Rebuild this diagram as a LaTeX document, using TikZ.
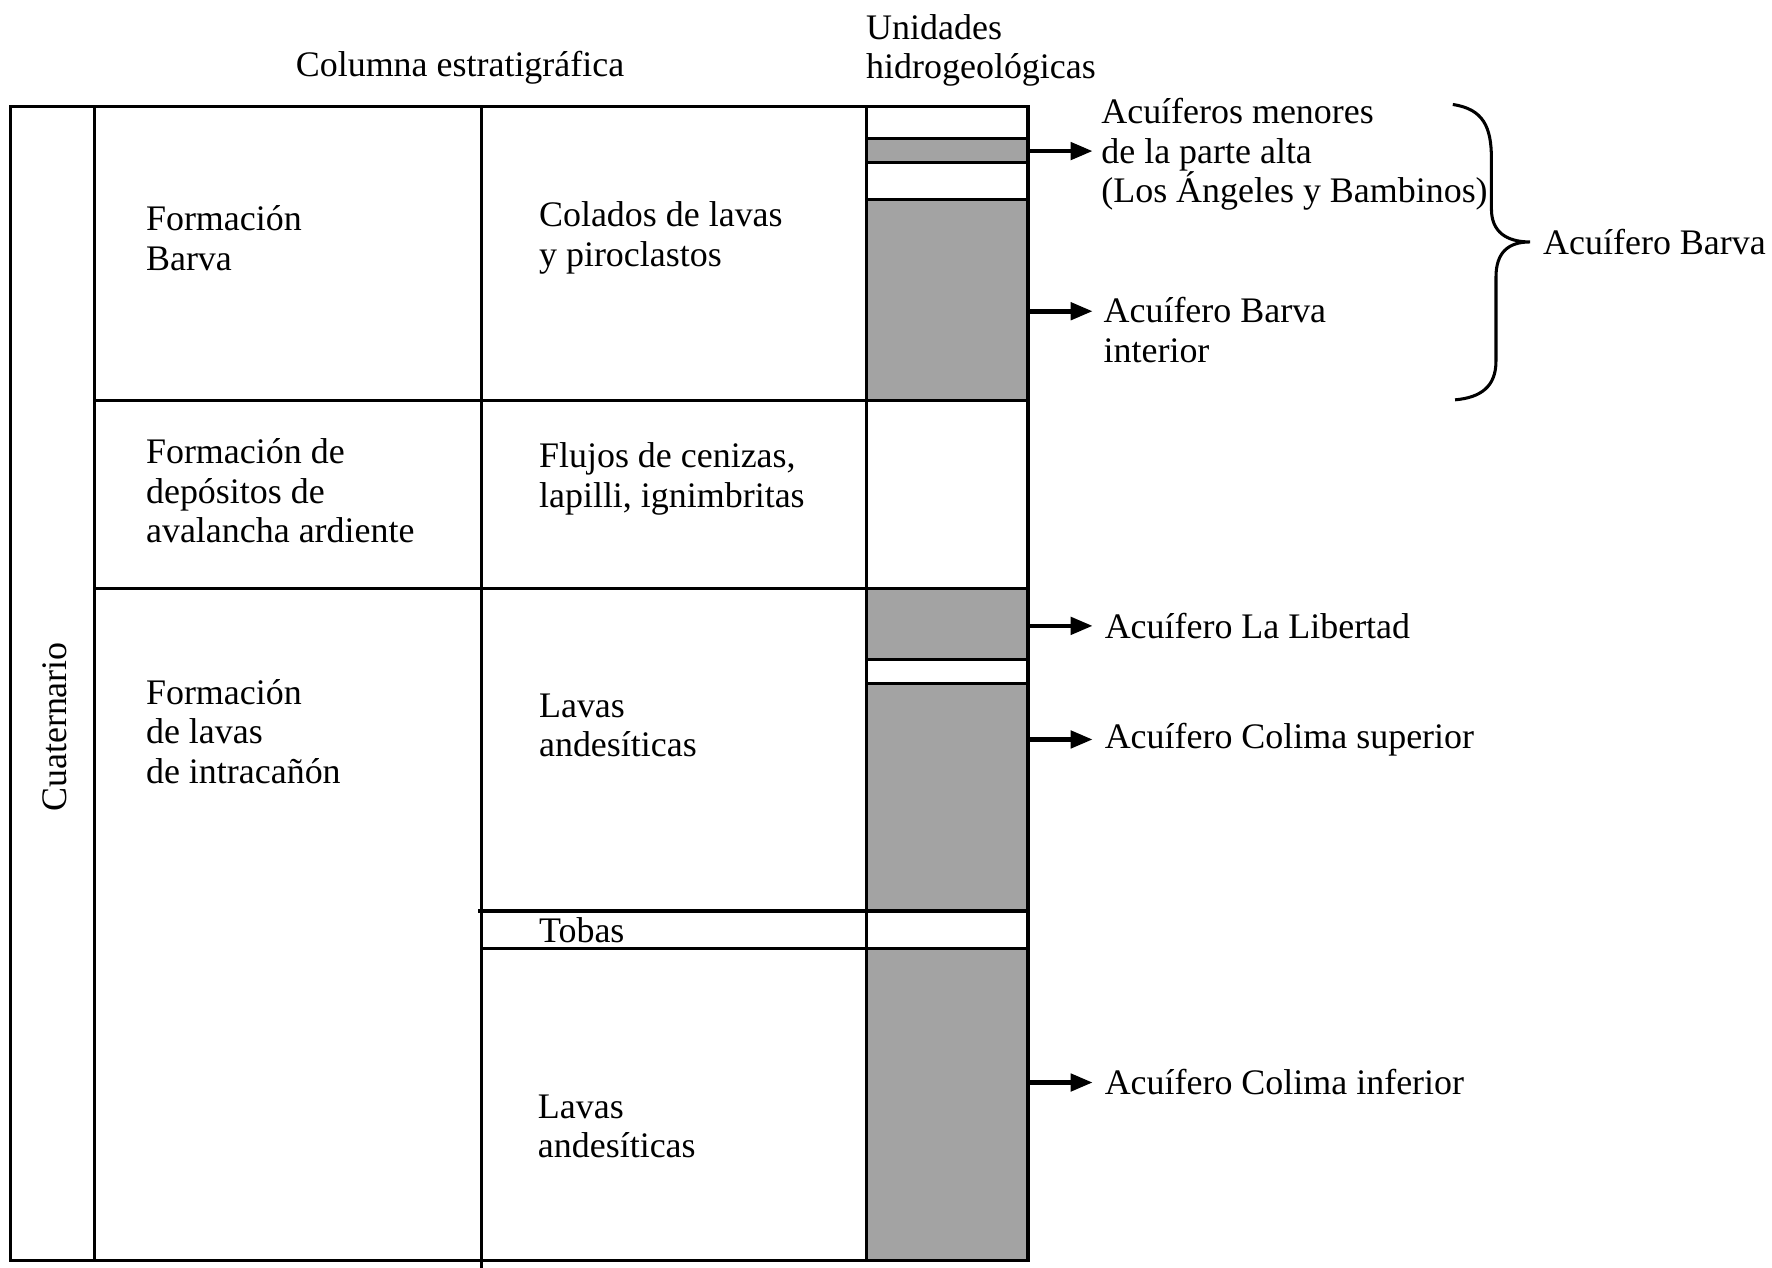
\documentclass[tikz,border=0pt]{standalone}
\usepackage{fontspec}
\setmainfont{Liberation Serif}
\usetikzlibrary{arrows.meta,positioning}
\definecolor{aquifer}{RGB}{163,163,163}

\begin{document}
\begin{tikzpicture}[
  x=0.335pt, y=-0.335pt,
  font=\fontsize{10.6}{11.7}\selectfont,
  cell/.style={anchor=west, inner sep=0pt, align=left},
  lbl/.style={anchor=west, inner sep=0pt, align=left},
  grid/.style={line width=0.9pt},
  arr/.style={-{Triangle[length=6.5pt,width=5pt]}, line width=1.4pt},
]
  \useasboundingbox (0,0) rectangle (1560,1116.3);

  % hydrogeological units
  \foreach \ya/\yb/\fc in {94/122/white, 122/143/aquifer, 143/176/white,
      176/353/aquifer, 353/518/white, 518/581/aquifer, 581/602/white,
      602/802/aquifer, 802/835/white, 835/1110/aquifer}
    \filldraw[grid, fill=\fc] (763,\ya) rectangle (905,\yb);
  \coordinate (ucol) at (905,94);

  % stratigraphic column
  \draw[grid] (9,94) rectangle (905,1110);
  \draw[grid] (83,94) -- (83,1110);
  \draw[grid] (424,94) -- (424,1120);
  \draw[grid] (763,94) -- (763,1110);
  \draw[grid] (83,353) -- (905,353) (83,518) -- (905,518);
  \draw[grid] (421,802) -- (905,802) (424,835) -- (905,835);

  \node (hstrat) at (405,60) {Columna estratigráfica};
  \node[cell] (hunits) at (762,44.5) {Unidades\\hidrogeológicas};

  \node[rotate=90] (era) at (48,640) {Cuaternario};
  \node[cell] (fbarva) at (128,209.5) {Formación\\Barva};
  \node[cell] (fdep) at (128,432) {Formación de\\depósitos de\\avalancha ardiente};
  \node[cell] (fintra) at (128,644) {Formación\\de lavas\\de intracañón};
  \node[cell] (lcol) at (474,209.5) {Colados de lavas\\y piroclastos};
  \node[cell] (lflu) at (474,421.5) {Flujos de cenizas,\\lapilli, ignimbritas};
  \node[cell] (land1) at (474,638.5) {Lavas\\andesíticas};
  \node[cell] (ltob) at (474,819) {Tobas};
  \node[cell] (land2) at (473,991.5) {Lavas\\andesíticas};

  % aquifers
  \node[lbl] (amen) at (969,136) {Acuíferos menores\\de la parte alta\\(Los Ángeles y Bambinos)};
  \node[lbl] (abinf) at (971,290.5) {Acuífero Barva\\interior};
  \node[lbl] (alib) at (972,551) {Acuífero La Libertad};
  \node[lbl] (acsup) at (972,651) {Acuífero Colima superior};
  \node[lbl] (acinf) at (972,953) {Acuífero Colima inferior};
  \node[lbl] (abarva) at (1358,213) {Acuífero Barva};

  \coordinate (t1) at (962,133);
  \coordinate (t2) at (962,274);
  \coordinate (t3) at (962,551);
  \coordinate (t4) at (962,651);
  \coordinate (t5) at (962,953);
  \foreach \t in {t1,t2,t3,t4,t5}
    \draw[arr] (\t -| ucol) -- (\t);

  % brace
  \draw[line width=0.9pt] (1279,92) .. controls (1306,96) and (1313,112) .. (1313,140)
    -- (1313,184) .. controls (1313,204) and (1326,213) .. (1347,213)
    .. controls (1328,213) and (1317,222) .. (1317,244)
    -- (1317,318) .. controls (1317,340) and (1304,350) .. (1281,352);
\end{tikzpicture}
\end{document}
